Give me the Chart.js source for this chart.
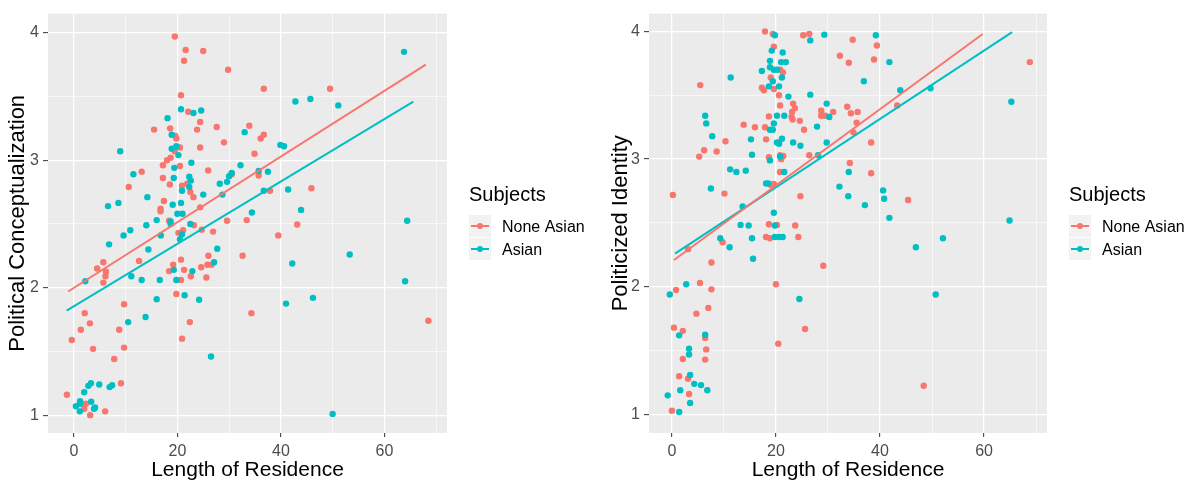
<!DOCTYPE html>
<html>
<head>
<meta charset="utf-8">
<script src="https://cdn.jsdelivr.net/npm/chart.js@4.4.0/dist/chart.umd.min.js"></script>
<style>
  body { margin: 0; background: #fff; }
  #wrap { position: relative; width: 1193px; height: 483px; }
  canvas { position: absolute; top: 0; }
  #left { left: 0; }
  #right { left: 597px; }
</style>
</head>
<body>
<div id="wrap">
  <canvas id="left" width="597" height="483"></canvas>
  <canvas id="right" width="596" height="483"></canvas>
</div>
<script>
// groups and colours (ggplot hue palette)
const seriesNames = ['None Asian', 'Asian'];
const seriesColors = ['#F8766D', '#00BFC4'];
const legendTitle = 'Subjects';

// axis breaks
const xMajor = [0, 20, 40, 60];
const xMinor = [10, 30, 50, 70];
const yMajor = [1, 2, 3, 4];
const yMinor = [1.5, 2.5, 3.5];

// Political Conceptualization vs Length of Residence: [years, score]
const concNonAsian = [
  [19.5,3.97],[21.6,3.865],[25.0,3.857],[21.3,3.78],[29.8,3.71],[20.7,3.51],[22.1,3.38],[24.4,3.30],
  [15.5,3.24],[18.6,3.25],[23.8,3.24],[27.6,3.26],[33.9,3.27],[19.6,3.19],[19.8,3.17],[29.0,3.14],
  [24.4,3.10],[20.5,3.10],[19.5,3.07],[18.7,3.02],[18.0,3.00],[17.2,2.96],[20.5,2.955],[13.1,2.91],
  [25.95,2.92],[30.5,2.89],[17.2,2.86],[21.9,2.815],[18.55,2.81],[20.9,2.80],[10.6,2.79],[22.5,2.75],
  [23.1,2.71],[17.4,2.68],[24.4,2.63],[16.75,2.62],[16.75,2.60],[18.4,2.525],[23.2,2.49],[29.6,2.525],
  [33.4,2.53],[20.2,2.43],[21.1,2.45],[24.7,2.455],[26.9,2.44],[32.6,2.25],[12.6,2.21],[5.7,2.20],
  [4.5,2.15],[6.2,2.125],[6.1,2.09],[5.7,2.04],[20.7,2.22],[26.0,2.25],[24.6,2.16],[25.8,2.18],
  [26.6,2.18],[25.6,2.08],[19.2,2.18],[18.4,2.13],[21.3,2.14],[22.6,2.09],[20.7,2.06],[19.8,1.95],
  [9.7,1.87],[2.1,1.80],[22.4,1.73],[3.1,1.72],[1.35,1.67],[8.75,1.67],[-0.4,1.59],[20.9,1.60],
  [3.7,1.52],[9.7,1.53],[7.8,1.44],[9.1,1.25],[-1.35,1.16],[2.3,1.09],[2.0,1.05],[3.15,1.00],
  [6.05,1.03],[36.7,3.56],[49.5,3.56],[36.7,3.20],[36.1,3.17],[34.9,3.05],[35.7,2.88],[37.9,2.76],
  [45.9,2.78],[43.15,2.495],[39.5,2.41],[34.3,1.80],[68.5,1.74]
];
const concAsian = [
  [20.7,3.40],[23.1,3.37],[24.6,3.39],[18.1,3.33],[33.0,3.22],[18.9,3.20],[8.95,3.07],[18.9,3.09],
  [19.8,3.11],[20.2,3.04],[22.7,2.98],[19.4,2.94],[11.5,2.89],[32.2,2.96],[30.5,2.90],[30.0,2.875],
  [19.3,2.86],[22.3,2.87],[22.6,2.84],[22.3,2.79],[28.2,2.815],[29.6,2.83],[20.9,2.76],[25.0,2.73],
  [28.7,2.73],[14.2,2.71],[6.6,2.64],[8.6,2.665],[19.1,2.65],[20.7,2.665],[20.0,2.58],[21.0,2.58],
  [14.0,2.49],[16.0,2.53],[18.7,2.52],[18.7,2.50],[22.5,2.50],[10.9,2.45],[9.6,2.41],[16.8,2.41],
  [20.9,2.42],[20.5,2.38],[6.8,2.34],[14.4,2.30],[27.7,2.305],[2.2,2.05],[27.1,2.20],[19.3,2.14],
  [22.9,2.13],[11.1,2.09],[13.1,2.06],[16.6,2.06],[19.8,2.06],[21.4,1.94],[24.2,1.905],[16.0,1.91],
  [10.5,1.73],[13.85,1.77],[26.5,1.46],[2.0,1.18],[2.8,1.23],[3.3,1.25],[4.9,1.24],[6.9,1.22],
  [7.4,1.235],[0.4,1.07],[1.2,1.11],[1.2,1.09],[1.16,1.03],[3.35,1.105],[4.1,1.06],[3.9,1.05],
  [63.8,3.85],[42.8,3.46],[45.7,3.48],[51.1,3.43],[39.9,3.12],[40.6,3.11],[35.7,2.915],[37.5,2.91],
  [36.7,2.76],[41.4,2.77],[34.4,2.59],[43.9,2.61],[64.4,2.525],[42.2,2.19],[53.3,2.26],[64.0,2.05],
  [41.0,1.875],[46.2,1.92],[50.0,1.01]
];
// fitted lines, start and end
const concFitNonAsian = [[-1.1,1.97],[68.0,3.75]];
const concFitAsian = [[-1.4,1.82],[65.6,3.46]];

// Politicized Identity vs Length of Residence
const identNonAsian = [
  [17.9,4.00],[19.4,3.98],[25.25,3.97],[26.4,3.98],[19.6,3.88],[20.8,3.70],[21.35,3.68],[19.0,3.64],
  [5.45,3.58],[17.3,3.56],[17.7,3.54],[19.6,3.55],[20.6,3.50],[23.3,3.435],[20.8,3.42],[23.65,3.40],
  [23.1,3.37],[23.0,3.33],[23.2,3.31],[28.7,3.38],[28.7,3.34],[29.5,3.34],[31.0,3.37],[33.7,3.41],
  [18.65,3.335],[24.6,3.30],[25.4,3.23],[17.9,3.25],[15.96,3.25],[13.8,3.27],[10.3,3.14],[18.1,3.155],
  [6.2,3.07],[8.6,3.06],[5.25,3.02],[18.65,3.015],[20.8,3.03],[21.4,3.025],[21.0,3.00],[26.4,3.03],
  [34.2,2.97],[20.8,2.90],[19.0,2.80],[19.3,2.80],[19.6,2.805],[0.2,2.72],[10.1,2.73],[24.7,2.71],
  [18.65,2.49],[20.2,2.485],[23.7,2.48],[34.75,3.935],[39.4,3.89],[32.3,3.81],[34.0,3.755],[38.85,3.78],
  [43.3,3.42],[68.8,3.76],[34.4,3.36],[35.7,3.37],[35.5,3.285],[34.9,3.21],[38.3,3.13],[38.3,2.89],
  [45.4,2.68],[48.4,1.225],[9.75,2.35],[18.1,2.39],[18.85,2.38],[24.3,2.39],[3.1,2.295],[7.6,2.19],
  [29.1,2.165],[5.4,2.03],[0.8,1.975],[7.6,1.98],[20.0,2.02],[7.0,1.835],[4.7,1.79],[0.4,1.68],
  [2.1,1.655],[6.4,1.60],[25.6,1.67],[20.45,1.555],[6.6,1.51],[2.1,1.435],[6.4,1.43],[1.4,1.30],
  [3.1,1.28],[3.3,1.16],[0.0,1.03]
];
const identAsian = [
  [19.8,3.97],[29.3,3.975],[26.6,3.93],[19.2,3.85],[21.3,3.835],[18.85,3.77],[21.0,3.76],[21.9,3.76],
  [18.85,3.72],[19.6,3.70],[20.25,3.70],[17.3,3.69],[21.15,3.64],[19.4,3.61],[11.3,3.64],[18.65,3.57],
  [20.6,3.57],[26.6,3.505],[22.4,3.49],[29.75,3.435],[30.25,3.33],[21.6,3.34],[20.2,3.34],[19.6,3.28],
  [18.85,3.23],[19.4,3.23],[27.9,3.255],[6.4,3.34],[6.6,3.28],[7.75,3.18],[15.2,3.155],[20.2,3.13],
  [20.6,3.12],[21.15,3.16],[23.3,3.13],[24.7,3.105],[29.75,3.13],[15.4,3.035],[18.85,2.99],[20.8,3.02],
  [28.1,3.03],[34.0,2.90],[11.2,2.92],[12.4,2.90],[14.2,2.91],[21.6,2.90],[7.5,2.77],[18.1,2.81],
  [18.5,2.81],[32.2,2.785],[33.9,2.71],[13.6,2.63],[19.6,2.58],[13.2,2.485],[14.75,2.48],[39.2,3.97],
  [41.8,3.76],[36.9,3.61],[43.9,3.54],[49.7,3.555],[65.25,3.45],[40.6,2.755],[40.8,2.69],[37.1,2.64],
  [41.8,2.54],[64.9,2.52],[46.9,2.31],[52.1,2.38],[50.7,1.94],[19.8,2.48],[9.3,2.38],[11.1,2.31],
  [15.4,2.38],[19.8,2.39],[20.6,2.39],[21.3,2.39],[15.6,2.22],[2.75,2.02],[-0.4,1.94],[24.5,1.905],
  [1.4,1.62],[6.4,1.625],[3.3,1.515],[3.3,1.47],[3.5,1.31],[4.3,1.24],[5.6,1.23],[6.8,1.19],
  [1.6,1.19],[-0.8,1.15],[3.5,1.09],[1.4,1.02]
];
const identFitNonAsian = [[0.4,2.21],[59.75,3.98]];
const identFitAsian = [[0.6,2.26],[65.4,3.995]];

const FONT = '"Liberation Sans", Arial, sans-serif';
Chart.defaults.font.family = FONT;

const toXY = pts => pts.map(p => ({ x: p[0], y: p[1] }));

// grey panel behind the grid
const panelBg = {
  id: 'panelBg',
  beforeDraw(chart) {
    const { ctx, chartArea: a } = chart;
    ctx.save();
    ctx.fillStyle = '#EBEBEB';
    ctx.fillRect(a.left, a.top, a.right - a.left, a.bottom - a.top);
    ctx.restore();
  }
};

// ggplot style legend to the right of the panel
const subjectsLegend = {
  id: 'subjectsLegend',
  afterDraw(chart) {
    const ctx = chart.ctx;
    const x = chart.chartArea.right + 22;
    ctx.save();
    ctx.textAlign = 'left';
    ctx.textBaseline = 'alphabetic';
    ctx.fillStyle = '#000';
    ctx.font = '20px ' + FONT;
    ctx.fillText(legendTitle, x, 201);
    seriesNames.forEach((name, i) => {
      const top = 215 + i * 23;
      ctx.fillStyle = '#F2F2F2';
      ctx.fillRect(x, top, 22, 22);
      ctx.strokeStyle = seriesColors[i];
      ctx.lineWidth = 2;
      ctx.beginPath();
      ctx.moveTo(x + 2, top + 11);
      ctx.lineTo(x + 20, top + 11);
      ctx.stroke();
      ctx.fillStyle = seriesColors[i];
      ctx.beginPath();
      ctx.arc(x + 11, top + 11, 3, 0, Math.PI * 2);
      ctx.fill();
      ctx.fillStyle = '#000';
      ctx.font = '16px ' + FONT;
      ctx.fillText(name, x + 33, top + 17);
    });
    ctx.restore();
  }
};

function gridWidth(majors) {
  return c => (c.tick && majors.includes(c.tick.value)) ? 1.3 : 0.6;
}
function tickMark(majors) {
  return c => (c.tick && majors.includes(c.tick.value)) ? '#333333' : 'rgba(0,0,0,0)';
}

function makePanel(id, cfg) {
  const fitLine = (pts, color) => ({
    data: toXY(pts), showLine: true, borderColor: color, borderWidth: 2,
    pointRadius: 0, order: 0
  });
  const dots = (pts, color, order) => ({
    data: toXY(pts), backgroundColor: color, borderWidth: 0,
    pointRadius: 3.2, pointHoverRadius: 3.2, order: order
  });
  return new Chart(document.getElementById(id), {
    type: 'scatter',
    data: {
      datasets: [
        fitLine(cfg.fits[0], seriesColors[0]),
        fitLine(cfg.fits[1], seriesColors[1]),
        dots(cfg.points[1], seriesColors[1], 1),
        dots(cfg.points[0], seriesColors[0], 2)
      ]
    },
    options: {
      responsive: false,
      animation: false,
      devicePixelRatio: 1,
      events: [],
      layout: { padding: { top: 9, right: cfg.padRight, left: 0, bottom: 0 } },
      plugins: { legend: { display: false }, tooltip: { enabled: false } },
      scales: {
        x: {
          type: 'linear',
          min: cfg.xMin,
          max: cfg.xMax,
          afterBuildTicks: s => { s.ticks = xMajor.concat(xMinor).sort((a, b) => a - b).map(v => ({ value: v })); },
          afterFit: s => { s.height = 50; },
          border: { display: false },
          grid: {
            color: '#FFFFFF', lineWidth: gridWidth(xMajor),
            drawTicks: true, tickLength: 4, tickWidth: 1, tickColor: tickMark(xMajor)
          },
          ticks: {
            autoSkip: false, maxRotation: 0, padding: 5, color: '#4D4D4D',
            font: { size: 16 },
            callback: v => xMajor.includes(v) ? String(v) : ''
          },
          title: {
            display: true, text: 'Length of Residence', color: '#000',
            font: { size: 21 }, padding: { top: 0, bottom: 0 }
          }
        },
        y: {
          type: 'linear',
          min: cfg.yMin,
          max: cfg.yMax,
          afterBuildTicks: s => { s.ticks = yMajor.concat(yMinor).sort((a, b) => a - b).map(v => ({ value: v })); },
          afterFit: s => { s.width = cfg.yWidth; },
          border: { display: false },
          grid: {
            color: '#FFFFFF', lineWidth: gridWidth(yMajor),
            drawTicks: true, tickLength: 5, tickWidth: 1, tickColor: tickMark(yMajor)
          },
          ticks: {
            autoSkip: false, padding: 4, color: '#4D4D4D',
            font: { size: 16 },
            callback: v => yMajor.includes(v) ? String(v) : ''
          },
          title: {
            display: true, text: cfg.yTitle, color: '#000',
            font: { size: 22 }, padding: { top: cfg.yTitlePad, bottom: 0 }
          }
        }
      }
    },
    plugins: [panelBg, subjectsLegend]
  });
}

makePanel('left', {
  points: [concNonAsian, concAsian],
  fits: [concFitNonAsian, concFitAsian],
  xMin: -5.0, xMax: 72.1, yMin: 0.86, yMax: 4.15,
  yWidth: 48, padRight: 150, yTitle: 'Political Conceptualization', yTitlePad: 4.8
});

makePanel('right', {
  points: [identNonAsian, identAsian],
  fits: [identFitNonAsian, identFitAsian],
  xMin: -4.4, xMax: 72.1, yMin: 0.855, yMax: 4.14,
  yWidth: 52, padRight: 146, yTitle: 'Politicized Identity', yTitlePad: 10.8
});
</script>
</body>
</html>
